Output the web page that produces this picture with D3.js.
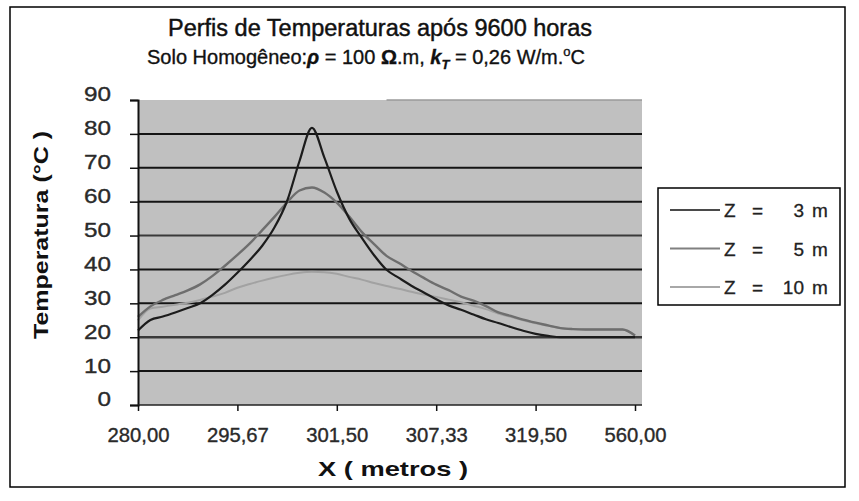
<!DOCTYPE html>
<html><head><meta charset="utf-8">
<script src="https://cdn.jsdelivr.net/npm/d3@7"></script>
<style>
html,body{margin:0;padding:0;background:#fff;}
svg text{font-family:"Liberation Sans",Arial,sans-serif;}
</style></head>
<body><div id="chart"></div>
<script>
// ---- data ----
const xLabels = ["280,00","295,67","301,50","307,33","319,50","560,00"];
const yTicks = [0,10,20,30,40,50,60,70,80,90];
const seriesNumbers = ["3","5","10"];
const z3 = [22,25.1,26.1,27.3,28.6,30.0,32.5,35.5,39.0,42.8,47.0,52.5,60.2,72.0,81.8,73.0,63.0,55.0,49.4,44.2,39.9,37.5,35.2,33.2,31.2,29.4,28.1,26.7,25.3,24.2,23.0,21.9,21.0,20.4,20.0,20.0,20.0,20.0,20.0,20.0,20.0];
const z5 = [26,29.1,31.0,32.4,33.8,35.6,38.1,41.1,44.3,47.7,51.6,55.6,59.8,63.3,64.2,62.7,59.7,55.6,51.1,47.5,44.0,41.9,39.6,37.5,35.5,33.9,32.0,30.8,29.2,27.3,26.3,25.2,24.3,23.5,22.7,22.4,22.3,22.3,22.3,22.3,20.5];
const z10 = [25,28.5,29.0,29.6,30.2,31.0,32.0,33.1,34.6,35.7,36.7,37.6,38.4,39.0,39.3,39.2,38.7,37.8,37.0,36.0,35.1,34.3,33.4,32.6,31.9,31.1,30.3,29.3,28.3,27.0,26.0,25.0,24.1,23.4,22.7,22.4,22.3,22.3,22.3,22.3,20.5];
const labelEvery = 8;

// ---- layout ----
const W = 859, H = 501;
const svg = d3.select("#chart").append("svg").attr("width", W).attr("height", H);
svg.append("rect").attr("x",10).attr("y",7).attr("width",835).attr("height",480)
  .attr("fill","#fff").attr("stroke","#000").attr("stroke-width",1.5);

const pl = 138, pr = 642, pt = 100, pb = 405;
const n = z3.length;
const x = d3.scaleLinear().domain([0, n-1]).range([pl, 635]);
const y = d3.scaleLinear().domain([0, 90]).range([pb, pt]);

svg.append("rect").attr("x",pl).attr("y",pt).attr("width",pr-pl).attr("height",pb-pt).attr("fill","#c0c0c0");

// gridlines
svg.append("g").selectAll("line").data(yTicks.filter(d=>d>0 && d<90)).join("line")
  .attr("x1",pl).attr("x2",pr).attr("y1",d=>y(d)).attr("y2",d=>y(d))
  .attr("stroke",d=>d===20||d===50?"#3a3a3a":"#141414").attr("stroke-width",d=>d===20?2.6:2);
svg.append("line").attr("x1",x(20)).attr("x2",pr).attr("y1",y(90)).attr("y2",y(90))
  .attr("stroke","#9a9a9a").attr("stroke-width",1.5);

// series
const line = d3.line().x((d,i)=>x(i)).y(d=>y(d)).curve(d3.curveMonotoneX);
const styles = [
  {data:z10, color:"#a2a2a2", w:2},
  {data:z5, color:"#6e6e6e", w:2.4},
  {data:z3, color:"#1c1c1c", w:2.2}
];
styles.forEach(s=>{
  svg.append("path").datum(s.data).attr("d",line).attr("fill","none")
    .attr("stroke",s.color).attr("stroke-width",s.w).attr("stroke-linejoin","round");
});

// y axis
const yAxis = svg.append("g").attr("transform",`translate(${pl},0)`)
  .call(d3.axisLeft(y).tickValues(yTicks).tickSize(8).tickPadding(19));
yAxis.select(".domain").attr("stroke","#111").attr("stroke-width",2);
yAxis.selectAll(".tick line").attr("stroke","#111").attr("stroke-width",1.5);
yAxis.selectAll(".tick text").attr("font-size",19.5).attr("fill","#2a2a2a").attr("dy","0.05em")
  .attr("stroke","#2a2a2a").attr("stroke-width",0.35)
  .attr("lengthAdjust","spacingAndGlyphs").attr("textLength",d=>String(d).length*13.5);

// x axis
const xAxis = svg.append("g").attr("transform",`translate(0,${pb})`)
  .call(d3.axisBottom(x).tickValues(d3.range(0,n,labelEvery)).tickFormat((d,i)=>xLabels[i]).tickSize(6).tickPadding(17));
xAxis.select(".domain").attr("d",`M${pl},0H${pr}`).attr("stroke","#222").attr("stroke-width",1.5);
xAxis.selectAll(".tick line").attr("stroke","#111").attr("stroke-width",1.5);
xAxis.selectAll(".tick text").attr("font-size",19.5).attr("fill","#2a2a2a")
  .attr("stroke","#2a2a2a").attr("stroke-width",0.35)
  .attr("lengthAdjust","spacingAndGlyphs").attr("textLength",62);

// titles
svg.append("text").attr("x",380).attr("y",36).attr("text-anchor","middle")
  .attr("font-size",23.5).attr("fill","#111").attr("stroke","#111").attr("stroke-width",0.45)
  .attr("lengthAdjust","spacingAndGlyphs").attr("textLength",424)
  .text("Perfis de Temperaturas após 9600 horas");
const sub = svg.append("text").attr("x",366).attr("y",64).attr("text-anchor","middle")
  .attr("font-size",20).attr("fill","#111").attr("stroke","#111").attr("stroke-width",0.35);
sub.append("tspan").text("Solo Homogêneo:");
sub.append("tspan").attr("font-weight","bold").attr("font-style","italic").text("ρ");
sub.append("tspan").text(" = 100 ");
sub.append("tspan").attr("font-weight","bold").text("Ω");
sub.append("tspan").text(".m, ");
sub.append("tspan").attr("font-weight","bold").attr("font-style","italic").text("k");
sub.append("tspan").attr("font-weight","bold").attr("font-style","italic").attr("font-size",13).attr("dy",5).text("T");
sub.append("tspan").attr("dy",-5).text(" = 0,26 W/m.");
sub.append("tspan").attr("font-size",13).attr("dy",-8).text("o");
sub.append("tspan").attr("dy",8).text("C");

svg.append("text").attr("transform","translate(48,235) rotate(-90)").attr("text-anchor","middle")
  .attr("font-size",21).attr("font-weight","bold").attr("fill","#111")
  .attr("lengthAdjust","spacingAndGlyphs").attr("textLength",208)
  .text("Temperatura (°C )");
svg.append("text").attr("x",393).attr("y",476).attr("text-anchor","middle")
  .attr("font-size",21).attr("font-weight","bold").attr("fill","#111")
  .attr("lengthAdjust","spacingAndGlyphs").attr("textLength",150)
  .text("X ( metros )");

// legend
const lg = svg.append("g");
lg.append("rect").attr("x",658).attr("y",188).attr("width",182).attr("height",117)
  .attr("fill","#fff").attr("stroke","#000").attr("stroke-width",1.5);
const legendColors = ["#4a4a4a","#808080","#a8a8a8"];
[0,1,2].forEach(i=>{
  const yy = 210 + i*38.5;
  lg.append("line").attr("x1",670).attr("x2",720).attr("y1",yy).attr("y2",yy)
    .attr("stroke",legendColors[i]).attr("stroke-width",2.2);
  const t = (xx, s, anchor) => lg.append("text").attr("x",xx).attr("y",yy+7).attr("font-size",19)
    .attr("fill","#222").attr("stroke","#222").attr("stroke-width",0.3)
    .attr("text-anchor",anchor||"start").text(s);
  t(724,"Z");
  t(752,"=");
  t(804,seriesNumbers[i],"end");
  t(812,"m");
});
</script></body></html>
